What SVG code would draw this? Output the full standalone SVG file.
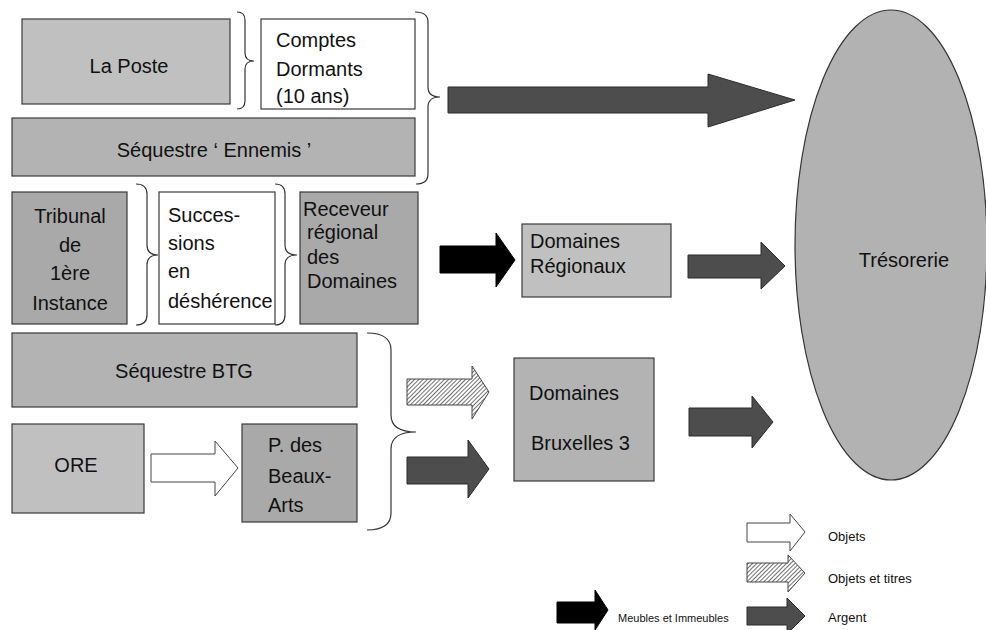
<svg xmlns="http://www.w3.org/2000/svg" width="986" height="630" viewBox="0 0 986 630">
<defs>
<pattern id="hatch" patternUnits="userSpaceOnUse" width="3" height="3" patternTransform="rotate(45)">
<rect width="3" height="3" fill="#ffffff"/>
<line x1="0" y1="0" x2="0" y2="3" stroke="#222" stroke-width="1.3"/>
</pattern>
<style>
.box{stroke:#3a3a3a;stroke-width:1.2}
.l1{fill:#c0c0c0}
.l2{fill:#b3b3b3}
.l3{fill:#a9a9a9}
.wh{fill:#ffffff}
.t{font-family:"Liberation Sans",Arial,sans-serif;font-size:20px;fill:#111}
.tl{font-family:"Liberation Sans",Arial,sans-serif;font-size:13px;fill:#111}
.tm{font-family:"Liberation Sans",Arial,sans-serif;font-size:11px;fill:#111}
.brace{fill:none;stroke:#333;stroke-width:1.2}
.dark{fill:#4d4d4d;stroke:#2a2a2a;stroke-width:1}
.black{fill:#000;stroke:#000;stroke-width:1}
.white{fill:#fff;stroke:#444;stroke-width:1}
.hat{fill:url(#hatch);stroke:#444;stroke-width:1}
</style>
</defs>
<rect width="986" height="630" fill="#ffffff"/>

<g id="tresorerie">
<ellipse cx="891" cy="245" rx="96" ry="235" fill="#b2b2b2" stroke="#333" stroke-width="1.2"/>
<text class="t" x="904" y="267" text-anchor="middle">Trésorerie</text>
</g>

<g id="la-poste">
<rect class="box l1" x="22" y="19" width="208" height="85"/>
<text class="t" x="129" y="73" text-anchor="middle">La Poste</text>
</g>
<g id="comptes-dormants">
<rect class="box wh" x="261" y="19" width="154" height="90"/>
<text class="t" x="276" y="47">Comptes</text>
<text class="t" x="276" y="76">Dormants</text>
<text class="t" x="276" y="103">(10 ans)</text>
</g>
<g id="sequestre-ennemis">
<rect class="box l2" x="12" y="118" width="403" height="58"/>
<text class="t" x="214" y="157" text-anchor="middle">Séquestre ‘ Ennemis ’</text>
</g>
<g id="tribunal">
<rect class="box l3" x="12" y="192" width="115" height="132"/>
<text class="t" x="70" y="223" text-anchor="middle">Tribunal</text>
<text class="t" x="70" y="252" text-anchor="middle">de</text>
<text class="t" x="70" y="280" text-anchor="middle">1ère</text>
<text class="t" x="70" y="310" text-anchor="middle">Instance</text>
</g>
<g id="successions">
<rect class="box wh" x="159" y="192" width="116" height="132"/>
<text class="t" x="168" y="222">Succes-</text>
<text class="t" x="168" y="250">sions</text>
<text class="t" x="168" y="278">en</text>
<text class="t" x="168" y="308">déshérence</text>
</g>
<g id="receveur">
<rect class="box l3" x="300" y="192" width="118" height="132"/>
<text class="t" x="303" y="216">Receveur</text>
<text class="t" x="307" y="239">régional</text>
<text class="t" x="307" y="264">des</text>
<text class="t" x="307" y="288">Domaines</text>
</g>
<g id="domaines-regionaux">
<rect class="box l1" x="522" y="224" width="149" height="73"/>
<text class="t" x="530" y="248">Domaines</text>
<text class="t" x="530" y="273">Régionaux</text>
</g>
<g id="sequestre-btg">
<rect class="box l2" x="12" y="333" width="345" height="74"/>
<text class="t" x="184" y="378" text-anchor="middle">Séquestre BTG</text>
</g>
<g id="ore">
<rect class="box l1" x="12" y="424" width="132" height="89"/>
<text class="t" x="76" y="472" text-anchor="middle">ORE</text>
</g>
<g id="beaux-arts">
<rect class="box l3" x="242" y="424" width="115" height="98"/>
<text class="t" x="268" y="452">P. des</text>
<text class="t" x="268" y="483">Beaux-</text>
<text class="t" x="268" y="512">Arts</text>
</g>
<g id="domaines-bruxelles">
<rect class="box l2" x="514" y="358" width="140" height="123"/>
<text class="t" x="529" y="400">Domaines</text>
<text class="t" x="531" y="450">Bruxelles 3</text>
</g>

<g id="braces">
<path class="brace" d="M237 12 Q245 12 245 20 L245 53 Q245 61 254 61 Q245 61 245 69 L245 101 Q245 109 237 109"/>
<path class="brace" d="M415 12 Q428 12 428 22 L428 87 Q428 97 440 97 Q428 97 428 107 L428 174 Q428 184 416 184"/>
<path class="brace" d="M136 184 Q147 184 147 194 L147 245 Q147 255 158 255 Q147 255 147 265 L147 315 Q147 325 136 325"/>
<path class="brace" d="M275 184 Q285 184 285 194 L285 245 Q285 255 297 255 Q285 255 285 265 L285 315 Q285 325 275 325"/>
<path class="brace" d="M367 333 Q391 333 391 350 L391 415 Q391 432 416 432 Q391 432 391 449 L391 513 Q391 530 367 530"/>
</g>

<g id="connectors">
<polygon class="dark" points="448,87 708,87 708,74 795,100 708,127 708,113 448,113"/>
<polygon class="black" points="440,246 496,246 496,233 515,260 496,287 496,273 440,273"/>
<polygon class="dark" points="688,255 761,255 761,242 785,266 761,289 761,278 688,278"/>
<polygon class="hat" points="407,379 472,379 472,366 489,392 472,419 472,405 407,405"/>
<polygon class="dark" points="407,457 468,457 468,440 489,469 468,498 468,484 407,484"/>
<polygon class="white" points="151,454 215,454 215,441 238,468 215,496 215,482 151,482"/>
<polygon class="dark" points="689,408 752,408 752,396 773,422 752,448 752,436 689,436"/>
</g>

<g id="legend">
<polygon class="white" points="747,523 790,523 790,514 805,532 790,551 790,542 747,542"/>
<text class="tl" x="828" y="541">Objets</text>
<polygon class="hat" points="747,563 788,563 788,555 805,573 788,592 788,582 747,582"/>
<text class="tl" x="828" y="583">Objets et titres</text>
<polygon class="dark" points="747,607 787,607 787,598 805,616 787,634 787,625 747,625"/>
<text class="tl" x="828" y="622">Argent</text>
<polygon class="black" points="557,602 595,602 595,590 608,610 595,630 595,623 557,623"/>
<text class="tm" x="618" y="622">Meubles et Immeubles</text>
</g>
</svg>
